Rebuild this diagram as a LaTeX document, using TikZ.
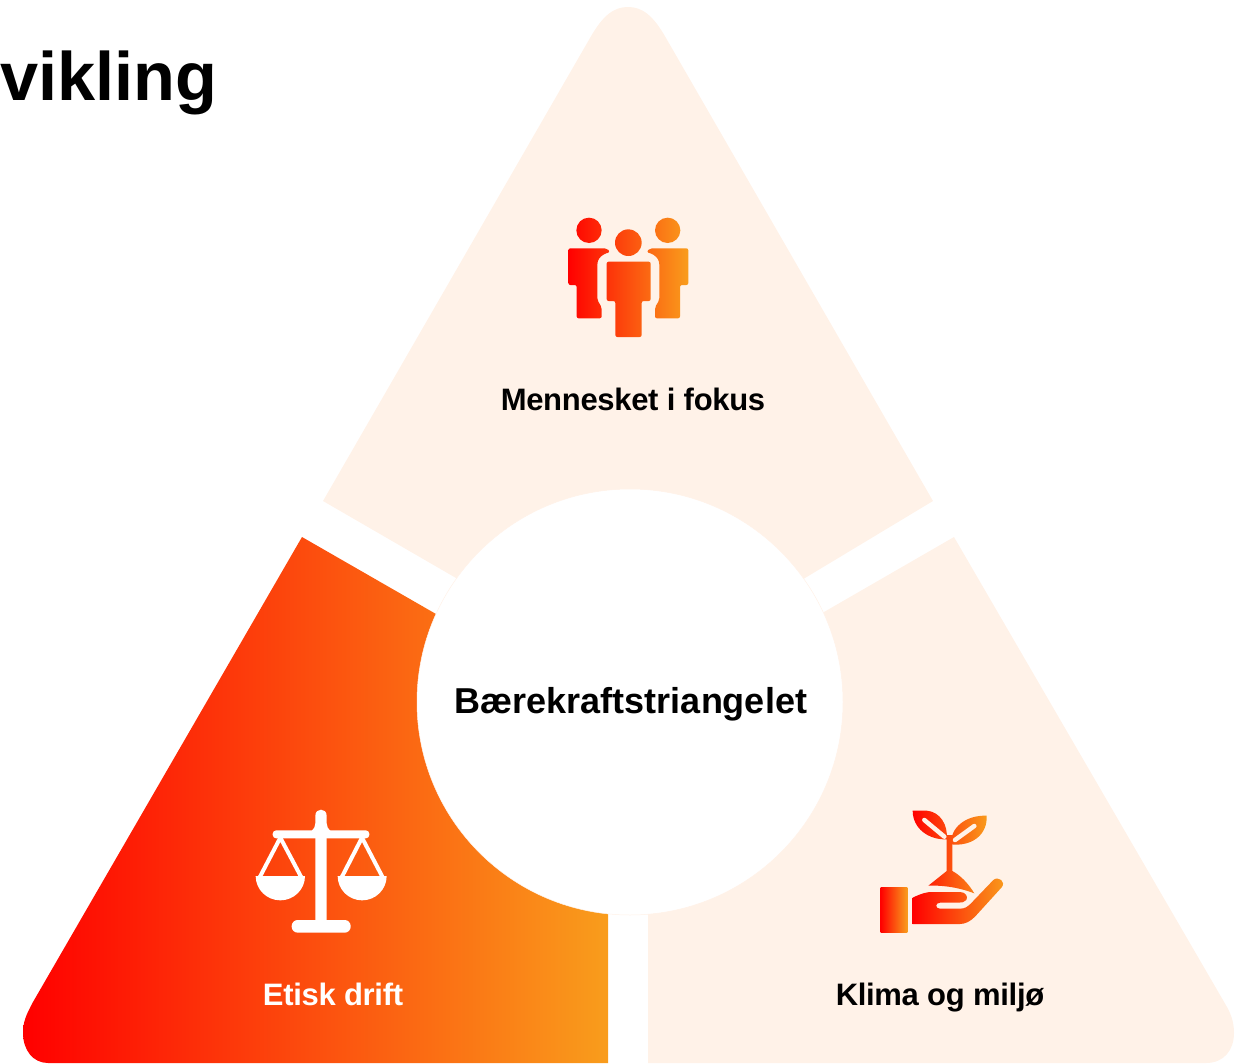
\documentclass[tikz,border=0pt]{standalone}
\usepackage{fontspec}
\setmainfont{Liberation Sans}
\definecolor{peach}{RGB}{255,242,232}
\definecolor{hotred}{RGB}{255,0,0}
\definecolor{hotorange}{RGB}{249,157,28}
\tikzset{
	hot/.style={left color=hotred, right color=hotorange},
	caption/.style={font=\bfseries\fontsize{31}{36}\selectfont\addfontfeatures{LetterSpace=-1}, inner sep=0pt, text=black, anchor=base},
	scaleline/.style={draw=white, line width=4pt, line join=round}
}

\begin{document}
\begin{tikzpicture}[x=1pt, y=-1pt]
		\useasboundingbox (0,0) rectangle (1245,1063);
		\fill[peach] (323,501) -- (590,38) .. controls (603,15) and (614,7) .. (628,7) .. controls (642,7) and (653,15) .. (666,38) -- (933,501) -- (805,578) -- (630,702) -- (456,578) -- cycle;
		\fill[peach] (954,537) -- (1227,1007) .. controls (1232,1016) and (1234,1024) .. (1234,1033) .. controls (1234,1050) and (1224,1063) .. (1206,1063) -- (648,1063) -- (648,800) -- (824,612) -- cycle;
		\shade[hot] (302,537) -- (33,1002) .. controls (26,1015) and (23,1022) .. (23,1033) .. controls (23,1050) and (33,1063) .. (48,1063) -- (608,1063) -- (608,800) -- (436,614) -- cycle;
		\node[circle, draw=peach, line width=0.5pt, fill=white, minimum size=426pt, inner sep=0pt] (core) at (630,702) {};
		\node[caption, font=\bfseries\fontsize{36}{40}\selectfont] (coretext) at (631,713) {Bærekraftstriangelet};
		\node[caption] (people) at (633,410) {Mennesket i fokus};
		\node[caption, text=white] (ethics) at (333,1005) {Etisk drift};
		\node[caption] (climate) at (940,1005) {Klima og miljø};
		\node[font=\bfseries\fontsize{68.5}{72}\selectfont, inner sep=0pt, anchor=base west] (heading) at (0,100) {vikling};
		\begin{scope}[shift={(540,200)}, scale=1/3]
			\shade[hot, rounded corners=2pt]
				(147,91) circle (38) (383,91) circle (38) (265,128) circle (40)
				(85,145) -- (200,145) -- (210,155) .. controls (205,158) and (172,165) .. (172,200) -- (172,300) -- (185,322) -- (185,355) -- (110,355) -- (110,255) -- (85,255) -- cycle
				(445,145) -- (330,145) -- (320,155) .. controls (325,158) and (358,165) .. (358,200) -- (358,300) -- (345,322) -- (345,355) -- (420,355) -- (420,255) -- (445,255) -- cycle
				(200,185) -- (332,185) -- (332,303) -- (305,303) -- (305,411) -- (226,411) -- (226,303) -- (200,303) -- cycle;
		\end{scope}
		\begin{scope}[shift={(240,795)}, scale=1/3]
			\fill[white] (226,380) -- (226,108) -- (215,108) .. controls (222,100) and (226,95) .. (226,85) -- (226,62) .. controls (226,38) and (260,38) .. (260,62) -- (260,85) .. controls (260,95) and (264,100) .. (272,108) -- (260,108) -- (260,380) -- cycle;
			\fill[white, rounded corners=3.5pt] (98,106) rectangle (388,130);
			\fill[white, rounded corners=6pt] (155,375) rectangle (332,413);
			\fill[white] (47,243) -- (195,243) arc[start angle=0, end angle=180, x radius=74, y radius=73] -- cycle;
			\fill[white] (293,243) -- (440,243) arc[start angle=0, end angle=180, x radius=73.5, y radius=73] -- cycle;
			\draw[scaleline] (60,245) -- (121,128) -- (183,245);
			\draw[scaleline] (306,245) -- (366,128) -- (427,245);
		\end{scope}
		\begin{scope}[shift={(865,795)}, scale=1/3]
			\shade[hot] (47,276) rectangle (127,411);
			\shade[hot] (143,308) .. controls (170,295) and (185,291) .. (200,291) -- (285,291) .. controls (302,291) and (310,305) .. (304,315) .. controls (298,322) and (290,323) .. (280,323) -- (225,323) .. controls (210,323) and (210,341) .. (225,341) -- (285,341) .. controls (300,341) and (308,335) .. (318,325) -- (385,255) .. controls (400,242) and (424,260) .. (410,277) -- (330,365) .. controls (315,380) and (300,387) .. (285,387) -- (143,387) -- cycle;
			\shade[hot]
				(143,47) -- (185,47) .. controls (225,50) and (250,90) .. (245,133) .. controls (190,135) and (143,100) .. (143,47) -- cycle
				(258,148) .. controls (255,100) and (300,60) .. (365,62) .. controls (368,120) and (320,155) .. (258,148) -- cycle
				(245,120) -- (262,120) -- (262,228) .. controls (285,240) and (310,265) .. (328,295) .. controls (290,280) and (240,270) .. (190,272) -- (245,228) -- cycle;
			\draw[peach, line width=4.5pt, line cap=round] (178,75) -- (238,125);
			\draw[peach, line width=4.5pt, line cap=round] (328,93) -- (270,135);
		\end{scope}
	\end{tikzpicture}
\end{document}
